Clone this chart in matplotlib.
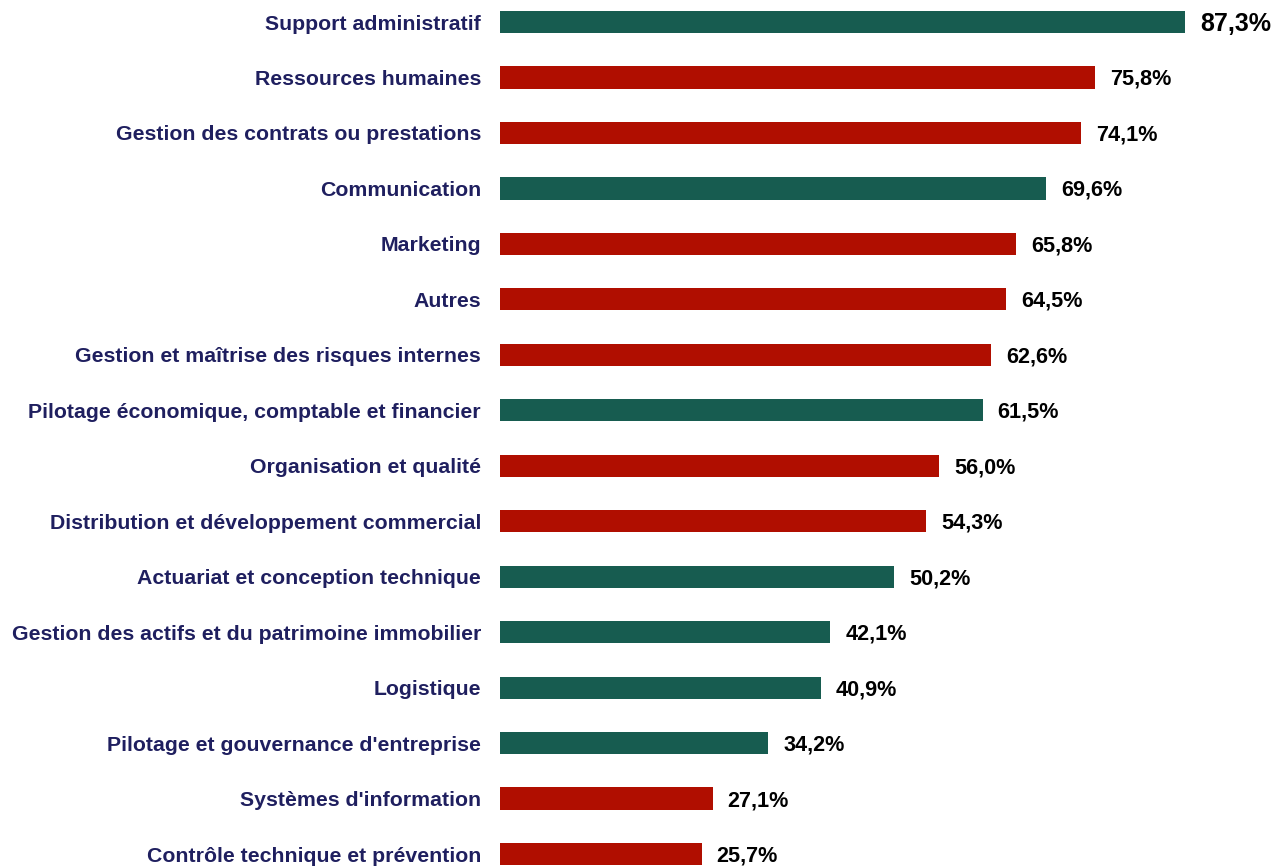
import matplotlib.pyplot as plt
from matplotlib.transforms import offset_copy

plt.rcParams['font.family'] = ['Liberation Sans', 'DejaVu Sans']

categories = [
    "Support administratif",
    "Ressources humaines",
    "Gestion des contrats ou prestations",
    "Communication",
    "Marketing",
    "Autres",
    "Gestion et maîtrise des risques internes",
    "Pilotage économique, comptable et financier",
    "Organisation et qualité",
    "Distribution et développement commercial",
    "Actuariat et conception technique",
    "Gestion des actifs et du patrimoine immobilier",
    "Logistique",
    "Pilotage et gouvernance d'entreprise",
    "Systèmes d'information",
    "Contrôle technique et prévention",
]
values = [87.3, 75.8, 74.1, 69.6, 65.8, 64.5, 62.6, 61.5, 56.0, 54.3, 50.2, 42.1, 40.9, 34.2, 27.1, 25.7]
groups = ["v", "r", "r", "v", "r", "r", "r", "v", "r", "r", "v", "v", "v", "v", "r", "r"]

green = "#175C50"
red = "#B00E00"
navy = "#1F1F5F"

fig = plt.figure(figsize=(12.72, 8.66), dpi=100)
px = 1 / 1272
ax = fig.add_axes([500 * px, 0, 90 * 7.846 * px, 1])

ypos = list(range(len(categories)))
colors = [green if g == "v" else red for g in groups]
ax.barh(ypos, values, height=0.4, color=colors)

ax.set_xlim(0, 90)
ax.set_ylim(15.216, -0.397)
ax.axis("off")

# labels a gauche des barres, valeurs a droite
lab_tr = offset_copy(ax.transData, fig=fig, x=-19, y=-2, units="dots")
val_tr = offset_copy(ax.transData, fig=fig, x=15, y=-2, units="dots")
for i, (c, v) in enumerate(zip(categories, values)):
    ax.text(0, i, c, transform=lab_tr, ha="right", va="center",
            fontsize=15.3, fontweight="bold", color=navy, clip_on=False)
    ax.text(v, i, f"{v:.1f}%".replace(".", ","), transform=val_tr,
            ha="left", va="center", fontsize=18 if i == 0 else 15.6,
            fontweight="bold", color="black", clip_on=False)

fig.savefig("out.png", dpi=100)
